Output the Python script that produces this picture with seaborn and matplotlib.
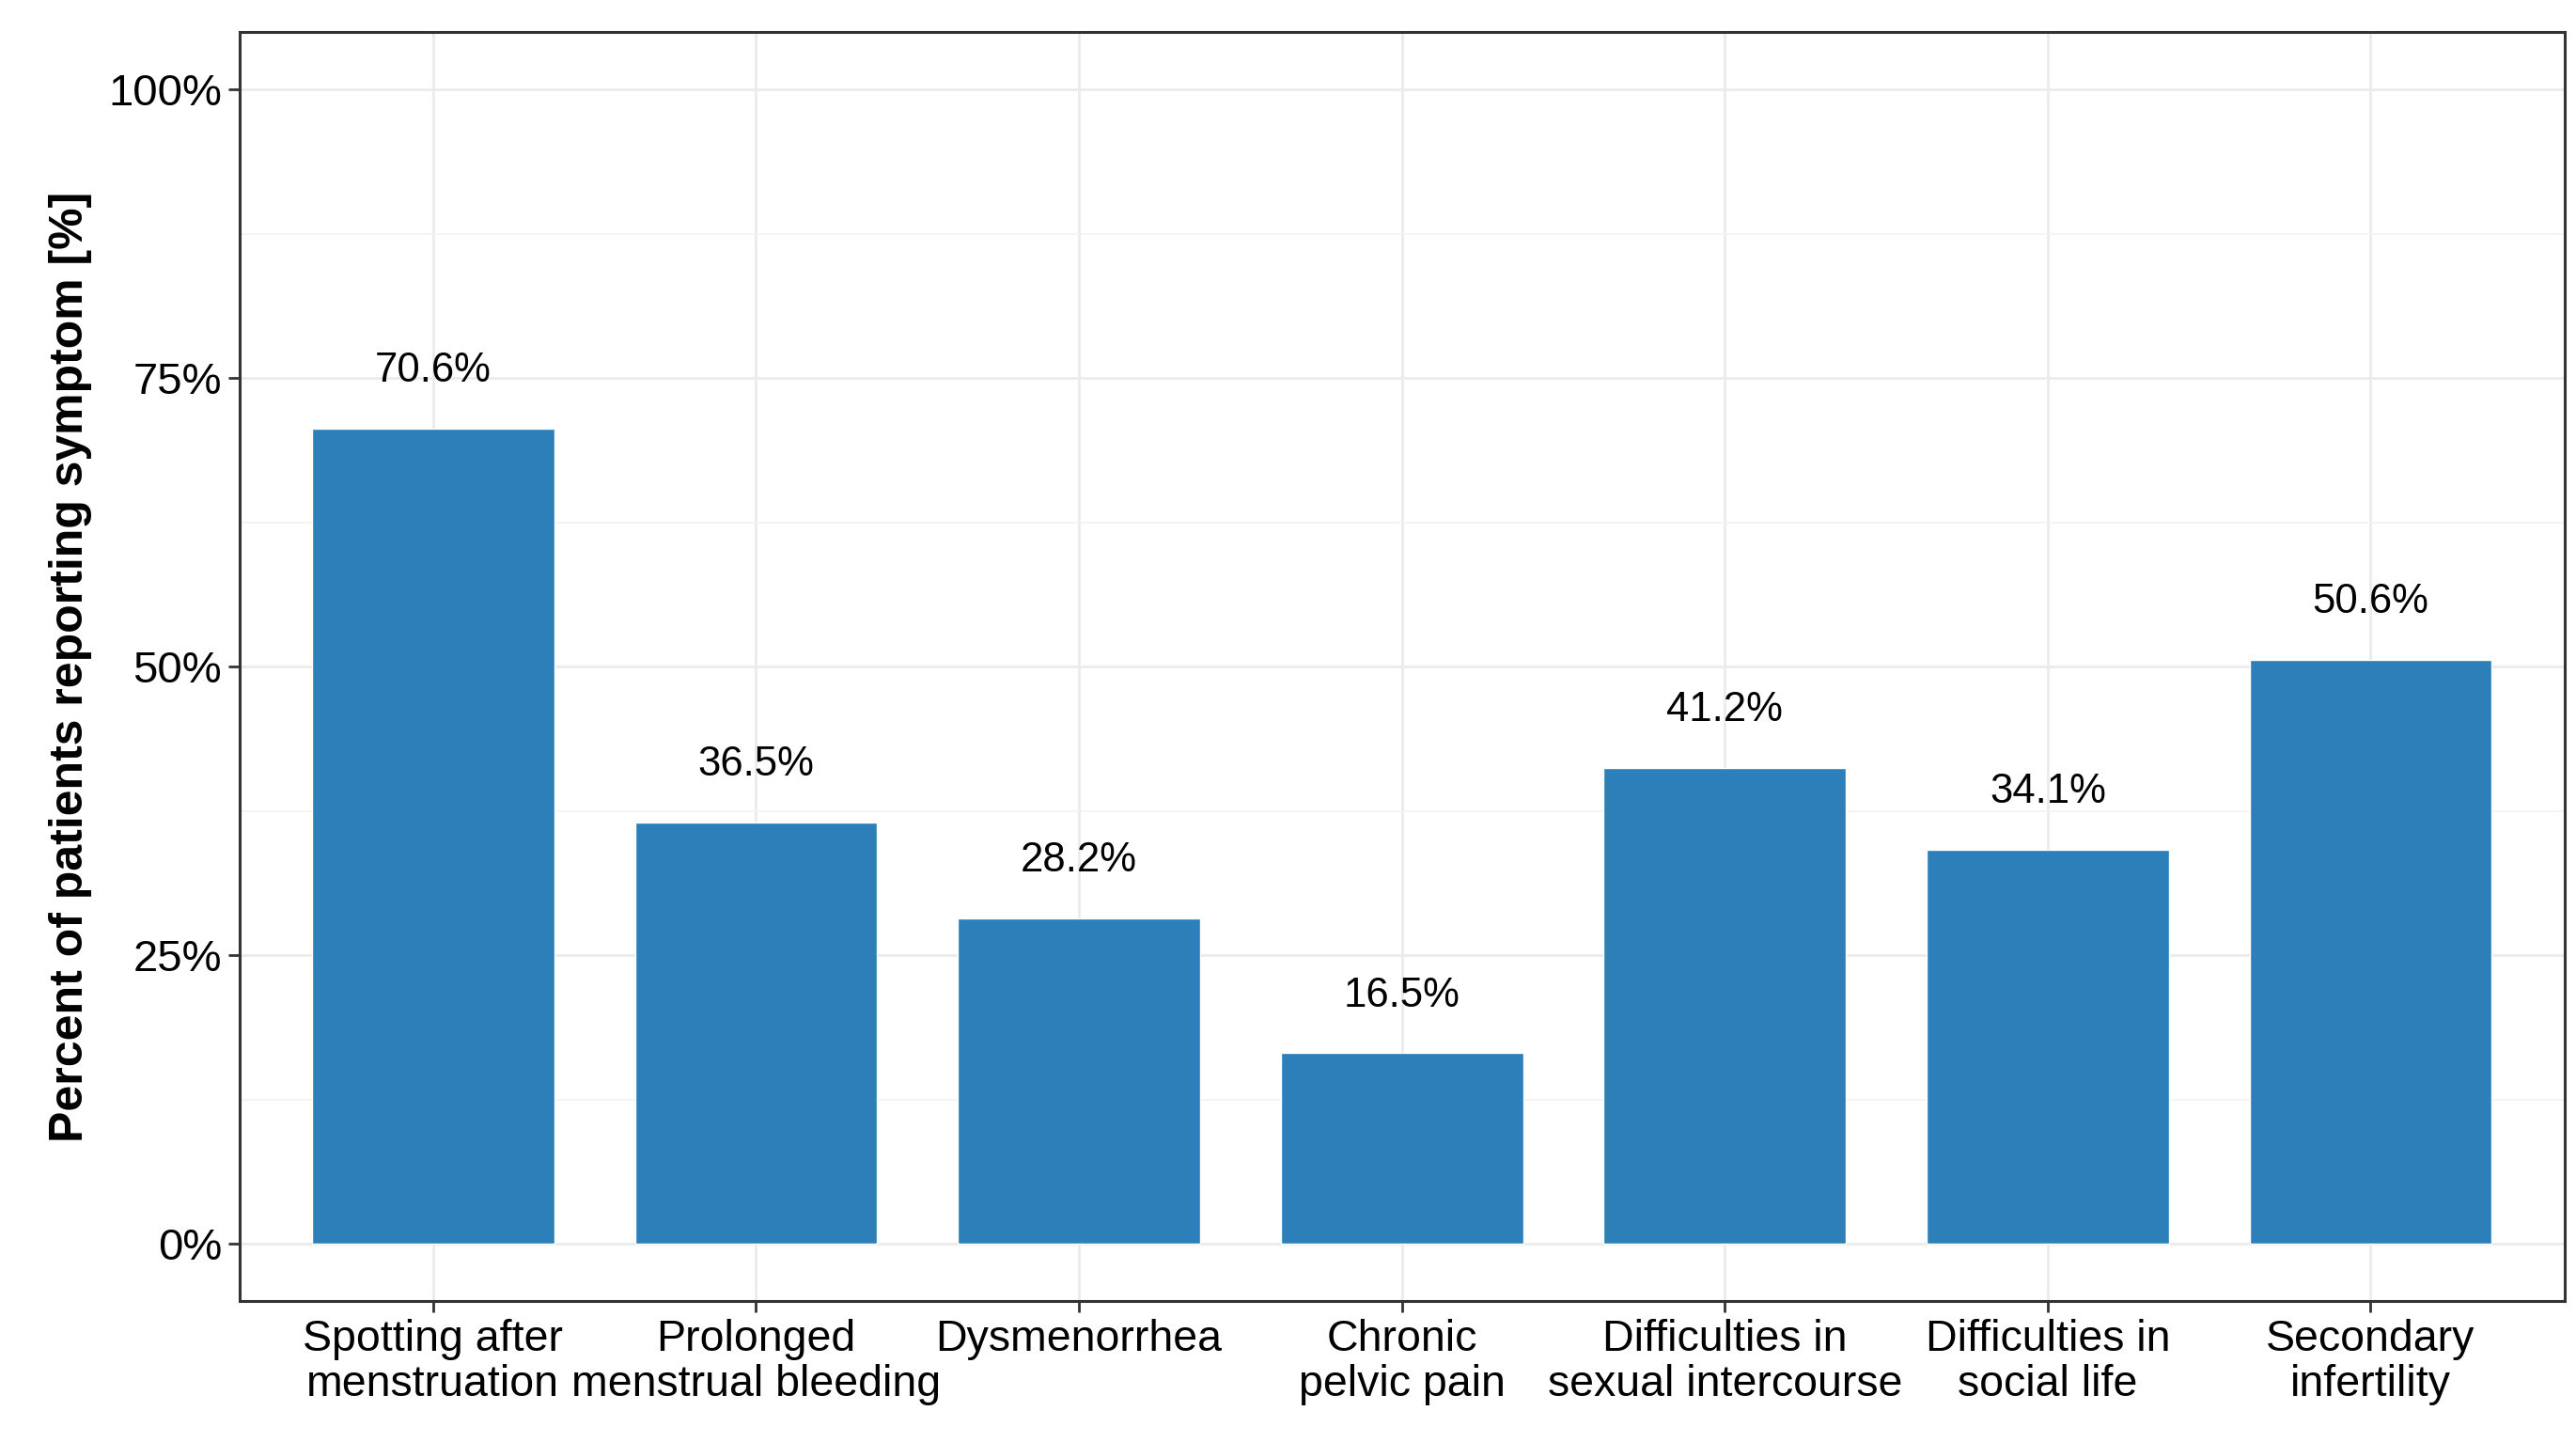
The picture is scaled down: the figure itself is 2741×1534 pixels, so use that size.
import numpy as np
import pandas as pd
import seaborn as sns
import matplotlib.pyplot as plt
from matplotlib.ticker import MultipleLocator, FixedLocator

# values
symptoms = ['Spotting after\nmenstruation', 'Prolonged\nmenstrual bleeding', 'Dysmenorrhea',
            'Chronic\npelvic pain', 'Difficulties in\nsexual intercourse', 'Difficulties in\nsocial life',
            'Secondary\ninfertility']
percent = [70.6, 36.5, 28.2, 16.5, 41.2, 34.1, 50.6]
y_ticks = [0, 25, 50, 75, 100]
y_tick_labels = ['0%', '25%', '50%', '75%', '100%']

df = pd.DataFrame({'symptom': symptoms, 'percent': percent})

sns.set_theme(style='white')
plt.rcParams['font.family'] = ['Liberation Sans', 'DejaVu Sans']

fig = plt.figure(figsize=(27.41, 15.34), dpi=100)
ax = fig.add_axes([0.0929, 0.0975, 0.9026, 0.8805])

sns.barplot(data=df, x='symptom', y='percent', color='#2c7fb8', saturation=1,
            width=0.75, ax=ax, zorder=3)

for i, v in enumerate(percent):
    ax.text(i, v + 5, '%.1f%%' % v, ha='center', va='center', fontsize=31.5, color='black', zorder=4)

ax.set_xlim(-0.6, 6.6)
ax.set_ylim(-5, 105)
ax.yaxis.set_major_locator(FixedLocator(y_ticks))
ax.set_yticklabels(y_tick_labels)
ax.yaxis.set_minor_locator(FixedLocator([12.5, 37.5, 62.5, 87.5]))

ax.grid(True, which='major', color='#ebebeb', linewidth=2, zorder=0)
ax.grid(True, which='minor', axis='y', color='#f2f2f2', linewidth=1.2, zorder=0)
ax.set_axisbelow(True)

for s in ax.spines.values():
    s.set_color('#333333')
    s.set_linewidth(2.2)

ax.tick_params(axis='y', which='major', labelsize=34)
ax.tick_params(axis='x', which='major', labelsize=33.5)
ax.tick_params(axis='both', which='major', length=8.5, width=2, color='#333333',
               labelcolor='black', pad=5, bottom=True, left=True)
ax.tick_params(axis='both', which='minor', length=0)
for lab in ax.get_xticklabels():
    lab.set_linespacing(1.1)

ax.set_xlabel('')
ax.set_ylabel('Percent of patients reporting symptom [%]', fontsize=36, fontweight='bold',
              color='black', labelpad=12)

fig.savefig('out.png', dpi=100, facecolor='white')
